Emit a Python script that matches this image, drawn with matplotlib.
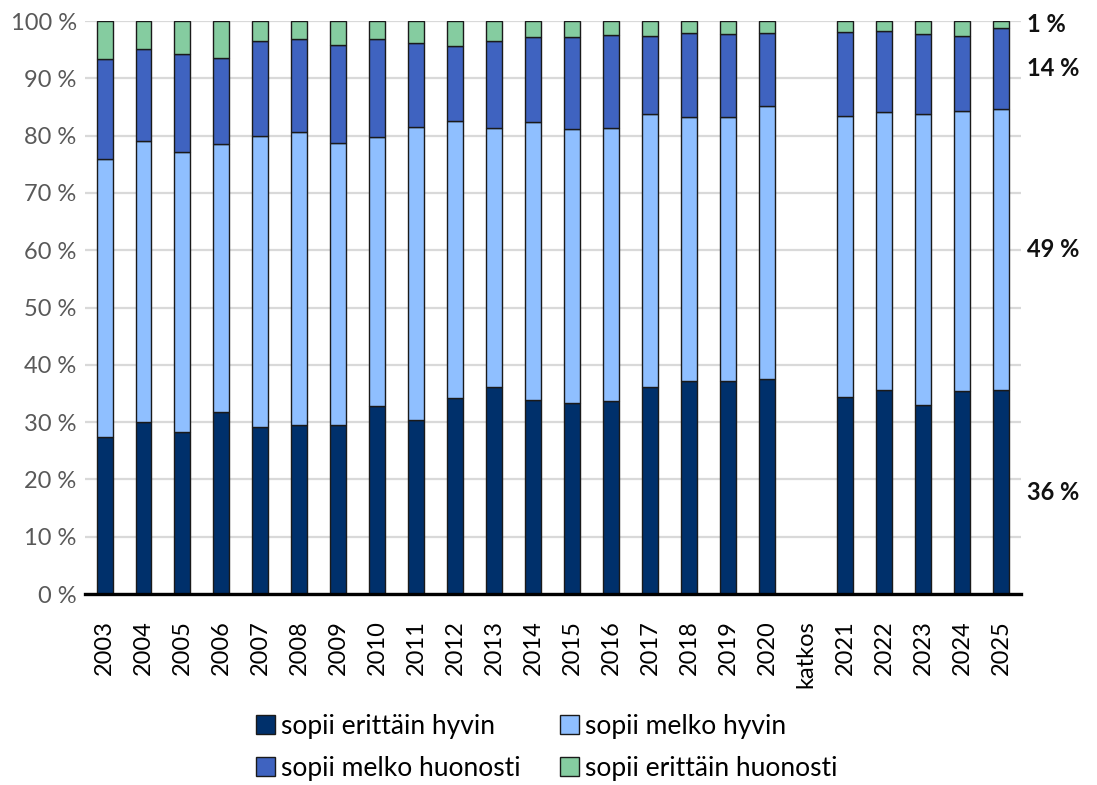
import numpy as np
import matplotlib.pyplot as plt

years = ['2003', '2004', '2005', '2006', '2007', '2008', '2009', '2010', '2011',
         '2012', '2013', '2014', '2015', '2016', '2017', '2018', '2019', '2020',
         'katkos', '2021', '2022', '2023', '2024', '2025']

# cumulative boundaries (percent), None = gap column
dark_top = [27.4, 30.0, 28.3, 31.8, 29.1, 29.5, 29.5, 32.9, 30.3,
            34.2, 36.2, 33.9, 33.3, 33.6, 36.1, 37.1, 37.2, 37.6,
            None, 34.4, 35.6, 33.0, 35.5, 35.6]
light_top = [76.0, 79.0, 77.1, 78.5, 80.0, 80.7, 78.8, 79.8, 81.5,
             82.5, 81.4, 82.4, 81.2, 81.3, 83.8, 83.2, 83.2, 85.2,
             None, 83.5, 84.2, 83.8, 84.3, 84.6]
mid_top = [93.3, 95.2, 94.3, 93.5, 96.5, 96.8, 95.8, 96.9, 96.1,
           95.7, 96.5, 97.2, 97.2, 97.6, 97.4, 97.9, 97.7, 97.9,
           None, 98.1, 98.3, 97.8, 97.4, 98.8]

labels = ['sopii erittäin hyvin', 'sopii melko hyvin',
          'sopii melko huonosti', 'sopii erittäin huonosti']
colors = ['#00306B', '#8FBFFF', '#3F63C0', '#85CCA0']
last_labels = ['36 %', '49 %', '14 %', '1 %']


def seg(a):
    return np.array([np.nan if v is None else v for v in a], dtype=float)


d = seg(dark_top)
l = seg(light_top)
m = seg(mid_top)
erittain_hyvin = d
melko_hyvin = l - d
melko_huonosti = m - l
erittain_huonosti = 100 - m
series = [erittain_hyvin, melko_hyvin, melko_huonosti, erittain_huonosti]

plt.rcParams['font.family'] = ['Lato', 'DejaVu Sans']

fig = plt.figure(figsize=(10.97, 7.85), dpi=100)
ax = fig.add_axes([0.0775, 0.2433, 0.853, 0.7299])

x = np.arange(len(years))
bottom = np.zeros(len(years))
handles = []
for vals, col, lab in zip(series, colors, labels):
    v = np.nan_to_num(vals)
    h = ax.bar(x, v, 0.41, bottom=bottom, color=col, edgecolor='#1a1a1a',
               linewidth=1.0, label=lab, zorder=3)
    handles.append(h)
    bottom = bottom + v

# labels next to the last bar
cum = 0
last = len(years) - 1
for vals, txt in zip(series, last_labels):
    mid = cum + vals[last] / 2
    cum += vals[last]
    ax.text(last + 0.66, mid, txt, fontsize=17, fontweight='bold',
            va='center', ha='left', color='#111111')

ax.set_xlim(-0.5, len(years) - 0.5)
ax.set_ylim(0, 100)
ax.set_yticks(np.arange(0, 101, 10))
ax.set_yticklabels([f'{t} %' for t in range(0, 101, 10)], fontsize=17,
                   color='#595959')
ax.set_xticks(x)
ax.set_xticklabels(years, rotation=90, fontsize=17, va='top')
ax.tick_params(axis='both', length=0)
ax.tick_params(axis='x', pad=19)
ax.tick_params(axis='y', pad=6)

ax.yaxis.grid(True, color='#D9D9D9', linewidth=1.6, zorder=0)
for s in ['top', 'right', 'left']:
    ax.spines[s].set_visible(False)
ax.spines['bottom'].set_linewidth(2.4)
ax.spines['bottom'].set_zorder(4)

# legend is filled column by column, so reorder to get the row layout
order = [0, 2, 1, 3]
fig.legend([handles[i] for i in order], [labels[i] for i in order],
           loc='center', bbox_to_anchor=(0.4986, 0.048), ncol=2, frameon=False,
           fontsize=19, handlelength=0.7, handleheight=0.7,
           handletextpad=0.25, columnspacing=1.5, labelspacing=0.65)

fig.savefig('out.png', dpi=100)
